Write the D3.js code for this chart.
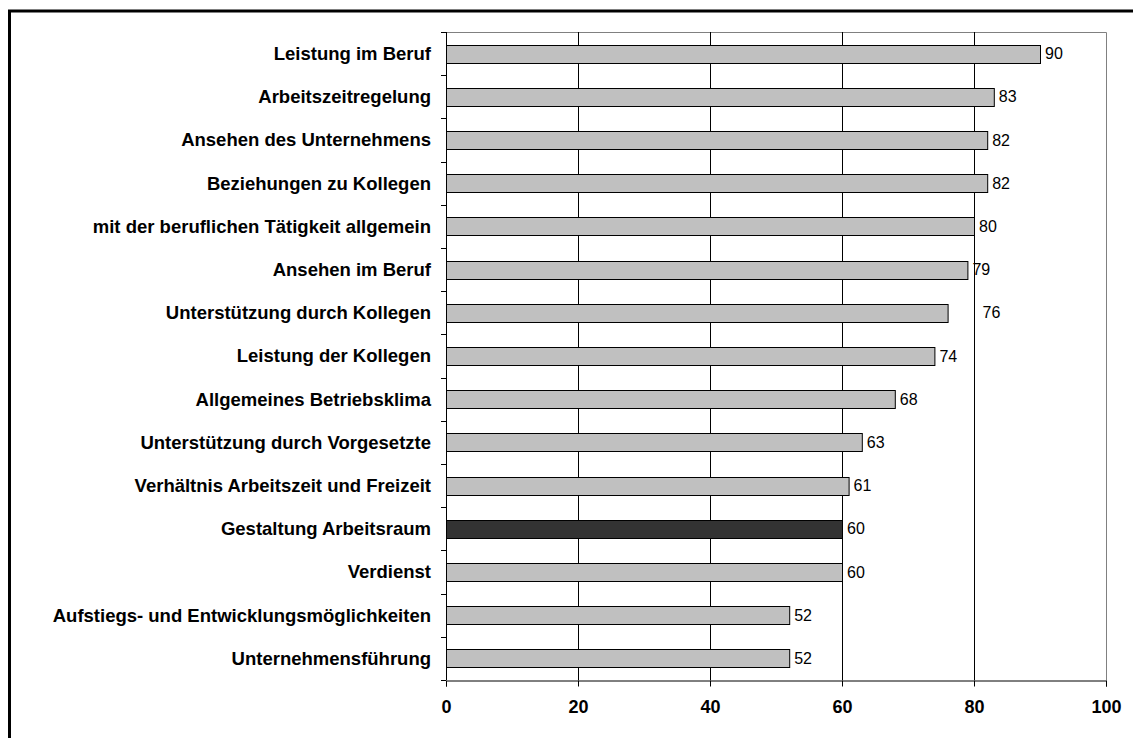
<!DOCTYPE html>
<html>
<head>
<meta charset="utf-8">
<script src="https://cdn.jsdelivr.net/npm/d3@7"></script>
<style>
  body { margin: 0; background: #fff; }
  svg text { font-family: Arial, "Liberation Sans", sans-serif; fill: #000; }
</style>
</head>
<body>
<svg id="mainSvg"></svg>
<script>
const categories = [
    'Leistung im Beruf',
    'Arbeitszeitregelung',
    'Ansehen des Unternehmens',
    'Beziehungen zu Kollegen',
    'mit der beruflichen Tätigkeit allgemein',
    'Ansehen im Beruf',
    'Unterstützung durch Kollegen',
    'Leistung der Kollegen',
    'Allgemeines Betriebsklima',
    'Unterstützung durch Vorgesetzte',
    'Verhältnis Arbeitszeit und Freizeit',
    'Gestaltung Arbeitsraum',
    'Verdienst',
    'Aufstiegs- und Entwicklungsmöglichkeiten',
    'Unternehmensführung'
]
const values = [90, 83, 82, 82, 80, 79, 76, 74, 68, 63, 61, 60, 60, 52, 52]
const highlighted = ['Gestaltung Arbeitsraum']
const xTicks = [0, 20, 40, 60, 80, 100]

const style = {
    svgW: 1133,
    svgH: 738,
    plot: { l: 446, r: 1106, t: 32, b: 680 },
    barFill: '#c0c0c0',
    barHiFill: '#333333',
    labelNudge: { 'Unterstützung durch Kollegen': 30 },
}

const svg = d3.select('#mainSvg')
    .attr('width', style.svgW)
    .attr('height', style.svgH)

// outer frame
svg.append('rect')
    .attr('x', 9.5).attr('y', 11)
    .attr('width', 1140).attr('height', 760)
    .attr('fill', 'none')
    .attr('stroke', '#000')
    .attr('stroke-width', 3)

const x = d3.scaleLinear()
    .domain([0, 100])
    .range([style.plot.l, style.plot.r])

const y = d3.scaleBand()
    .domain(categories)
    .range([style.plot.t, style.plot.b])
    .paddingInner(0.58)
    .paddingOuter(0.29)

const data = categories.map((c, i) => ({ cat: c, val: values[i] }))

// plot border (top / right in grey)
svg.append('path')
    .attr('d', `M${style.plot.l},${style.plot.t + 0.5}H${style.plot.r + 0.5}V${style.plot.b}`)
    .attr('fill', 'none')
    .attr('stroke', '#808080')
    .attr('stroke-width', 1)

// vertical gridlines
svg.append('g')
    .selectAll('line')
    .data(xTicks.filter(d => d > 0 && d < 100))
    .join('line')
    .attr('x1', d => Math.round(x(d)) + 0.5)
    .attr('x2', d => Math.round(x(d)) + 0.5)
    .attr('y1', style.plot.t)
    .attr('y2', style.plot.b)
    .attr('stroke', '#000')
    .attr('stroke-width', 1)

// bars
svg.append('g')
    .selectAll('rect')
    .data(data)
    .join('rect')
    .attr('x', x(0) + 0.5)
    .attr('y', d => Math.round(y(d.cat)) + 0.5)
    .attr('width', d => x(d.val) - x(0))
    .attr('height', Math.round(y.bandwidth()))
    .attr('fill', d => highlighted.includes(d.cat) ? style.barHiFill : style.barFill)
    .attr('stroke', '#000')
    .attr('stroke-width', 1)

// value labels
svg.append('g')
    .selectAll('text')
    .data(data)
    .join('text')
    .attr('x', d => x(d.val) + 5 + (style.labelNudge[d.cat] || 0))
    .attr('y', d => y(d.cat) + y.bandwidth() / 2)
    .attr('dy', '0.35em')
    .attr('font-size', '16px')
    .text(d => d.val)

// x axis
const xAxis = d3.axisBottom(x)
    .tickValues(xTicks)
    .tickSize(6)
    .tickPadding(14)
const xG = svg.append('g')
    .attr('transform', `translate(0,${style.plot.b + 0.5})`)
    .call(xAxis)
xG.select('.domain').attr('stroke', '#000')
xG.selectAll('.tick line').attr('stroke', '#000')
xG.selectAll('.tick text')
    .attr('font-size', '18px')
    .attr('font-weight', 'bold')
    .attr('font-family', 'Arial, "Liberation Sans", sans-serif')
    .attr('fill', '#000')

// y axis line and ticks at band boundaries
const yG = svg.append('g')
svg.append('line')
    .attr('x1', x(0) + 0.5).attr('x2', x(0) + 0.5)
    .attr('y1', style.plot.t).attr('y2', style.plot.b)
    .attr('stroke', '#000')
const boundaries = d3.range(categories.length + 1)
    .map(i => style.plot.t + i * y.step())
yG.selectAll('line')
    .data(boundaries)
    .join('line')
    .attr('x1', x(0) - 5).attr('x2', x(0))
    .attr('y1', d => Math.round(d) + 0.5)
    .attr('y2', d => Math.round(d) + 0.5)
    .attr('stroke', '#000')

// category labels
svg.append('g')
    .selectAll('text')
    .data(categories)
    .join('text')
    .attr('x', 431)
    .attr('y', d => y(d) + y.bandwidth() / 2)
    .attr('dy', '0.35em')
    .attr('text-anchor', 'end')
    .attr('font-size', '18.5px')
    .attr('font-weight', 'bold')
    .text(d => d)
</script>
</body>
</html>
